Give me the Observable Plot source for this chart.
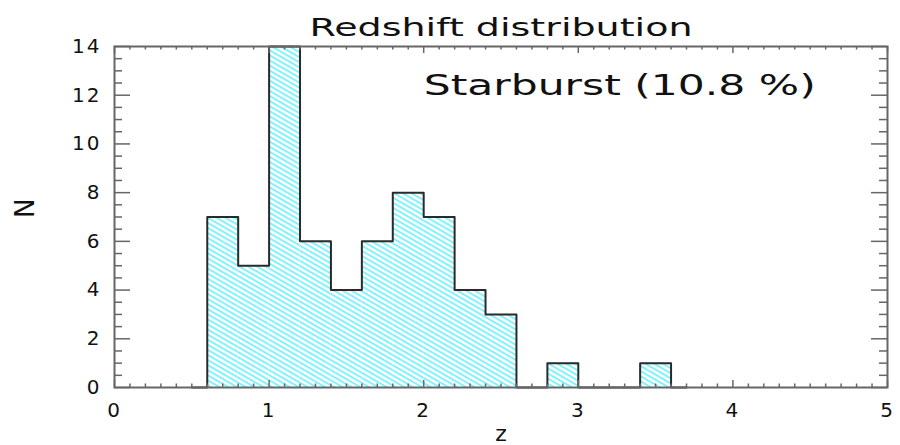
<!DOCTYPE html>
<html><head><meta charset="utf-8">
<script src="https://cdn.jsdelivr.net/npm/d3@7"></script>
<script src="https://cdn.jsdelivr.net/npm/@observablehq/plot@0.6"></script>
<style>
body{margin:0;background:#fff}
svg{font-family:"DejaVu Sans",sans-serif}
</style>
</head><body><div id="chart"></div>
<script>
// Histogram bins (z) and counts
const binStart = [0.6,0.8,1.0,1.2,1.4,1.6,1.8,2.0,2.2,2.4,2.6,2.8,3.0,3.2,3.4];
const binEnd   = [0.8,1.0,1.2,1.4,1.6,1.8,2.0,2.2,2.4,2.6,2.8,3.0,3.2,3.4,3.6];
const counts   = [7,5,14,6,4,6,8,7,4,3,0,1,0,0,1];
const outlineStart = 0.5, outlineEnd = 3.7;
const xTicks = [0,1,2,3,4,5];
const yTicks = [0,2,4,6,8,10,12,14];
const titleText = "Redshift distribution";
const noteText = "Starburst (10.8 %)";
const noteX = 2.0, noteY = 12;

const bins = binStart.map((s,i)=>({x1:s, x2:binEnd[i], n:counts[i]}));
const outline = [{x:outlineStart,y:0}]
  .concat(binStart.map((s,i)=>({x:s,y:counts[i]})))
  .concat([{x:binEnd[binEnd.length-1],y:0},{x:outlineEnd,y:0}]);

const W=900,H=445,mL=114,mR=13,mT=46,mB=58;
const iW=W-mL-mR, iH=H-mT-mB;
const xMinor = d3.range(0,51).map(d=>d/10).filter(d=>!xTicks.includes(d));
const yMinor = d3.range(0,29).map(d=>d/2).filter(d=>!yTicks.includes(d));
const fc="#666";

const chart = Plot.plot({
  width:W,height:H,marginLeft:mL,marginRight:mR,marginTop:mT,marginBottom:mB,
  x:{domain:[0,5]}, y:{domain:[0,14]},
  marks:[
    Plot.rectY(bins,{x1:"x1",x2:"x2",y:"n",fill:"url(#hatch)"}),
    Plot.line(outline,{x:"x",y:"y",curve:"step-after",stroke:"#2a2a2a",strokeWidth:2}),
    // inward ticks on all four sides
    Plot.tickX(xTicks,{x:d=>d,stroke:fc,strokeWidth:1.5,insetTop:iH-7}),
    Plot.tickX(xMinor,{x:d=>d,stroke:fc,strokeWidth:1.5,insetTop:iH-3.5}),
    Plot.tickX(xTicks,{x:d=>d,stroke:fc,strokeWidth:1.5,insetBottom:iH-7}),
    Plot.tickX(xMinor,{x:d=>d,stroke:fc,strokeWidth:1.5,insetBottom:iH-3.5}),
    Plot.tickY(yTicks,{y:d=>d,stroke:fc,strokeWidth:1.5,insetRight:iW-16}),
    Plot.tickY(yMinor,{y:d=>d,stroke:fc,strokeWidth:1.5,insetRight:iW-8}),
    Plot.tickY(yTicks,{y:d=>d,stroke:fc,strokeWidth:1.5,insetLeft:iW-16}),
    Plot.tickY(yMinor,{y:d=>d,stroke:fc,strokeWidth:1.5,insetLeft:iW-8}),
    Plot.frame({stroke:fc,strokeWidth:2}),
    Plot.axisX(xTicks,{tickSize:0,tickPadding:15,fontSize:20,label:null,fill:"#111",tickFormat:d=>String(d)}),
    Plot.axisY(yTicks,{tickSize:0,tickPadding:13,fontSize:20,label:null,fill:"#111",tickFormat:d=>String(d)}),
    Plot.text([titleText],{text:d=>d,frameAnchor:"top",dy:-11,lineAnchor:"bottom",fontSize:25,fill:"#111"}),
    Plot.text([noteText],{x:noteX,y:noteY,text:d=>d,textAnchor:"start",lineAnchor:"bottom",fontSize:28,fill:"#111"}),
    Plot.text(["z"],{text:d=>d,frameAnchor:"bottom",dy:53,lineAnchor:"bottom",fontSize:22,fill:"#111"}),
    Plot.text(["N"],{text:d=>d,frameAnchor:"left",dx:-89,dy:1,rotate:-90,fontSize:26,fill:"#111"})
  ]
});
const svg = d3.select(chart);
svg.insert("defs",":first-child").html(
  `<pattern id="hatch" patternUnits="userSpaceOnUse" width="4.4" height="4.4" patternTransform="rotate(30)">
     <rect width="4.4" height="4.4" fill="#fff"/>
     <line x1="0" y1="1.1" x2="4.4" y2="1.1" stroke="#74f0fa" stroke-width="1.8"/>
   </pattern>`);
svg.selectAll("text").filter(function(){return this.textContent===titleText;})
  .attr("textLength",383).attr("lengthAdjust","spacingAndGlyphs");
svg.selectAll("text").filter(function(){return this.textContent===noteText;})
  .attr("textLength",392).attr("lengthAdjust","spacingAndGlyphs");
svg.selectAll("g[aria-label='x-axis tick label'] text, g[aria-label='y-axis tick label'] text")
  .style("letter-spacing","2px");
document.getElementById("chart").appendChild(chart);
</script>
</body></html>
